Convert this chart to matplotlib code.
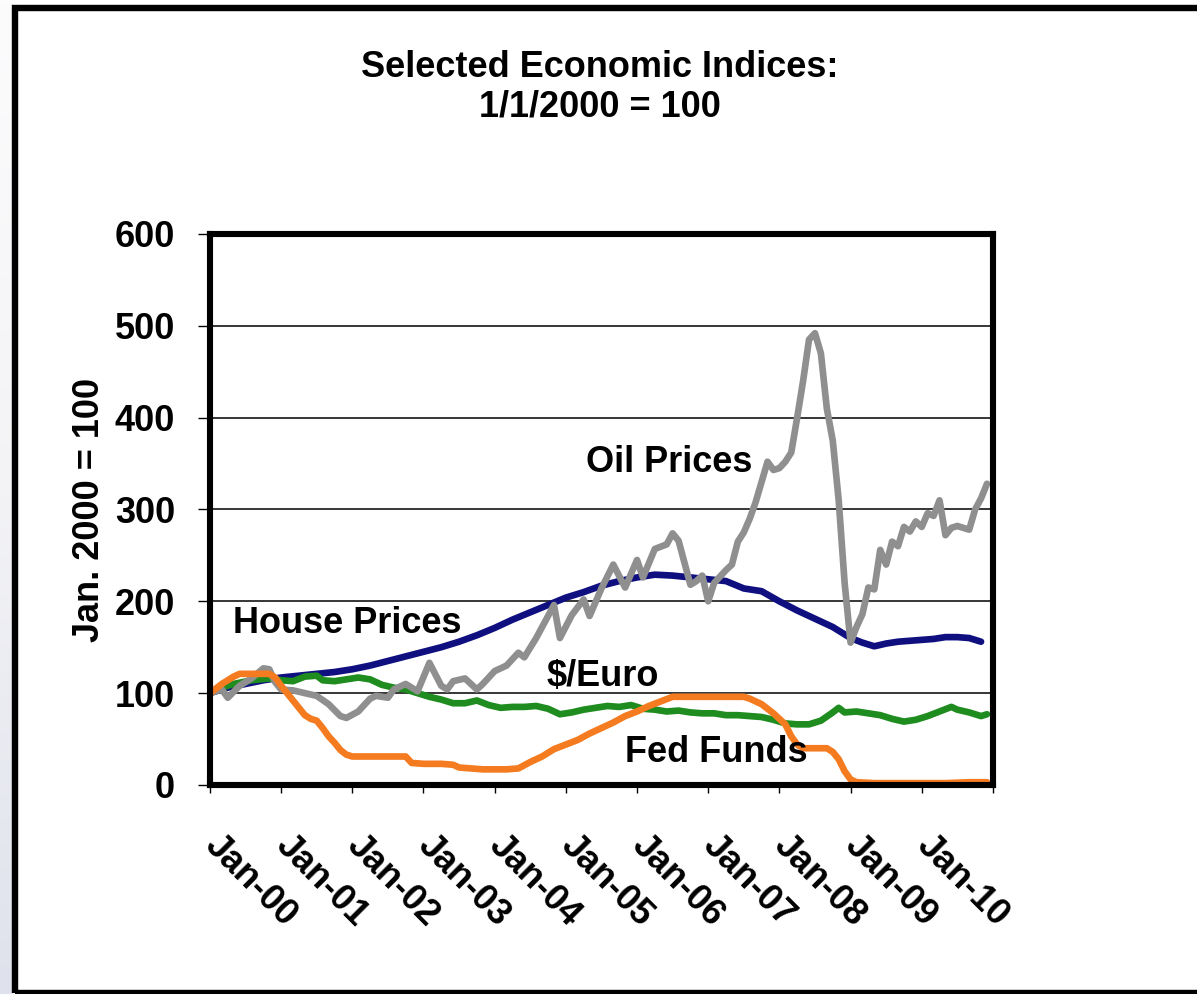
import numpy as np
import matplotlib.pyplot as plt
from matplotlib.patches import Rectangle

# Arial-like bold everywhere
plt.rcParams['font.family'] = ['Liberation Sans', 'DejaVu Sans']
plt.rcParams['font.weight'] = 'bold'

# months since Jan 2000, index value (Jan 2000 = 100)
oil_month = [0, 2, 3, 5, 7, 9, 10, 11, 12, 14, 16, 18, 20, 22, 23, 25, 27, 28, 30, 31,
             33, 35, 37, 39, 40, 41, 43, 45, 46, 48, 50, 52, 53, 55, 56, 58, 59, 61, 63, 64,
             66, 68, 70, 72, 73, 75, 77, 78, 79, 81, 82, 83, 84, 85, 87, 88, 89, 90, 91, 92,
             93, 94, 95, 96, 97, 98, 99, 100, 101, 102, 103, 104, 105, 106, 107, 108, 109, 110,
             111, 112, 113, 114, 115, 116, 117, 118, 119, 120, 121, 122, 123, 124, 125, 126,
             127, 128, 129, 130, 131]
oil_value = [100, 104, 95, 108, 116, 127, 126, 112, 104, 103, 100, 97, 88, 75, 73, 80, 94, 97, 95, 104,
             110, 102, 133, 108, 104, 113, 116, 104, 110, 124, 130, 144, 139, 160, 172, 196, 160, 185, 202, 184,
             214, 240, 215, 245, 226, 257, 262, 274, 266, 218, 222, 228, 200, 220, 234, 240, 265, 275, 290, 308,
             330, 352, 343, 345, 352, 362, 400, 440, 485, 492, 470, 410, 375, 310, 220, 155, 172, 186,
             215, 213, 256, 240, 265, 260, 281, 276, 287, 281, 296, 293, 310, 272, 280, 282,
             280, 278, 300, 312, 328]

house_month = [0, 3, 6, 9, 12, 15, 18, 21, 24, 27, 30, 33, 36, 39, 42, 45, 48, 51, 54, 57,
               60, 63, 66, 69, 72, 75, 78, 81, 84, 87, 90, 93, 96, 99, 102, 105, 108, 110, 112, 114,
               116, 118, 120, 122, 124, 126, 128, 130]
house_value = [100, 106, 110, 114, 117, 119, 121, 123, 126, 130, 135, 140, 145, 150, 156, 163, 171, 180, 188, 196,
               204, 210, 217, 222, 226, 229, 228, 226, 224, 222, 214, 211, 200, 190, 181, 172, 160, 155, 151, 154,
               156, 157, 158, 159, 161, 161, 160, 156]

euro_month = [0, 2, 4, 7, 10, 12, 14, 16, 18, 19, 21, 23, 25, 27, 29, 31, 33, 35, 37, 39,
              41, 43, 45, 47, 49, 51, 53, 55, 57, 59, 61, 63, 65, 67, 69, 71, 73, 75, 77, 79,
              81, 83, 85, 87, 89, 91, 93, 95, 97, 99, 101, 103, 105, 106, 107, 109, 111, 113, 115, 117,
              119, 121, 123, 125, 126, 128, 130, 131]
euro_value = [100, 106, 110, 114, 116, 114, 113, 118, 119, 114, 113, 115, 117, 115, 109, 106, 104, 100, 96, 93,
              89, 89, 92, 87, 84, 85, 85, 86, 83, 77, 79, 82, 84, 86, 85, 87, 83, 82, 80, 81,
              79, 78, 78, 76, 76, 75, 74, 71, 67, 66, 66, 70, 79, 84, 79, 80, 78, 76, 72, 69,
              71, 75, 80, 85, 82, 79, 75, 77]

fed_month = [0, 2, 4, 5, 8, 10, 11, 12, 13, 14, 15, 16, 17, 18, 19, 20, 21, 22, 23, 24,
             27, 30, 33, 34, 36, 39, 41, 42, 44, 46, 48, 50, 52, 54, 56, 58, 60, 62, 64, 66,
             68, 70, 72, 74, 76, 78, 80, 84, 88, 90, 91, 93, 95, 97, 98, 99, 100, 104, 105, 106,
             107, 108, 109, 112, 116, 120, 124, 128, 131]
fed_value = [100, 110, 118, 121, 121, 121, 117, 108, 100, 92, 84, 76, 72, 70, 62, 53, 46, 38, 33, 31,
             31, 31, 31, 24, 23, 23, 22, 19, 18, 17, 17, 17, 18, 25, 31, 39, 44, 49, 56, 62,
             68, 75, 80, 86, 91, 96, 96, 96, 96, 96, 94, 88, 78, 66, 53, 44, 40, 40, 36, 28,
             15, 6, 3, 2, 2, 2, 2, 3, 3]

tick_labels = ['Jan-00', 'Jan-01', 'Jan-02', 'Jan-03', 'Jan-04', 'Jan-05',
               'Jan-06', 'Jan-07', 'Jan-08', 'Jan-09', 'Jan-10', '']

fig = plt.figure(figsize=(11.97, 9.94), dpi=100, facecolor='white')

# faint slide background showing at the far left edge, darker towards the bottom
bg = fig.add_axes([0, 0, 13 / 1197, 1])
grad = np.linspace(0, 1, 200)[:, None]
bg.imshow(grad, aspect='auto', origin='lower', extent=(0, 1, 0, 1),
          cmap=plt.matplotlib.colors.LinearSegmentedColormap.from_list(
              'edge', ['#dfe2ec', '#f3f3f6', '#fcfcfd']))
bg.set_axis_off()

ax = fig.add_axes([0.1754, 0.2103, 0.6541, 0.5543])

lw = 4.8
ax.plot(house_month, house_value, color='#0f0f80', lw=lw, solid_capstyle='round', zorder=3)
ax.plot(euro_month, euro_value, color='#1e8c1e', lw=lw, solid_capstyle='round', zorder=4)
ax.plot(oil_month, oil_value, color='#8f8f8f', lw=lw, solid_capstyle='round', zorder=5)
ax.plot(fed_month, fed_value, color='#f47b20', lw=lw, solid_capstyle='round', zorder=6)

ax.set_xlim(0, 132)
ax.set_ylim(0, 600)
ax.set_yticks(range(0, 601, 100))
ax.set_xticks(range(0, 133, 12))
ax.set_xticklabels(tick_labels, rotation=-45, ha='left', va='center', rotation_mode='anchor')
ax.tick_params(axis='y', labelsize=26, length=9, width=1, pad=16, direction='out')
ax.tick_params(axis='x', labelsize=26, length=6, width=1, pad=34, direction='out')
ax.set_ylabel('Jan. 2000 = 100', fontsize=26, fontweight='bold', labelpad=6)

ax.grid(axis='y', color='black', lw=1.1)
ax.set_axisbelow(True)
for s in ax.spines.values():
    s.set_linewidth(4.4)
    s.set_zorder(8)

# series labels inside the plot
lab = dict(fontsize=26, fontweight='bold', va='baseline', ha='left', zorder=9)
ax.text(63.4, 341, 'Oil Prices', **lab)
ax.text(3.9, 166, 'House Prices', **lab)
ax.text(56.8, 108, '$/Euro', **lab)
ax.text(70, 25, 'Fed Funds', **lab)

fig.text(0.501, 0.950, 'Selected Economic Indices:\n1/1/2000 = 100', ha='center', va='top',
         fontsize=26, fontweight='bold', linespacing=1.18)

# black frame round the chart area
fig.patches.append(Rectangle((15 / 1197, 1 / 994), 1.2, 1 - 9 / 994, transform=fig.transFigure,
                             fill=False, ec='black', lw=4.6, zorder=0))

fig.savefig('out.png', dpi=100, facecolor='white')
